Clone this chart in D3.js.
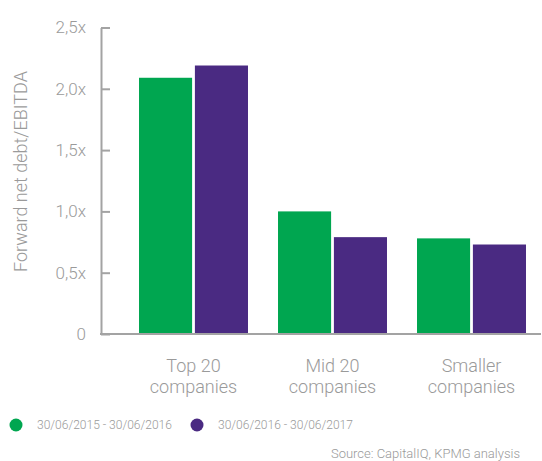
<!DOCTYPE html>
<html>
<head>
<meta charset="utf-8">
<script src="https://cdn.jsdelivr.net/npm/d3@7"></script>
<style>
  html, body { margin: 0; padding: 0; background: #fff; }
  svg { display: block; font-family: Roboto, "Open Sans", sans-serif; font-weight: 300; }
</style>
</head>
<body>
<svg id="chart" width="542" height="461"></svg>
<script>
const categories = [["Top 20", "companies"], ["Mid 20", "companies"], ["Smaller", "companies"]];
const seriesNames = ["30/06/2015 - 30/06/2016", "30/06/2016 - 30/06/2017"];
const series2016 = [2.09, 1.0, 0.78];
const series2017 = [2.19, 0.79, 0.73];
const yTicks = [0, 0.5, 1.0, 1.5, 2.0, 2.5];
const colors = ["#00a650", "#4a2a82"];

const svg = d3.select("#chart");
const grey = "#a3a3a3";
const textGrey = "#9a9a9a";

const x0 = d3.scaleBand()
    .domain(categories.map((d, i) => i))
    .range([124, 541])
    .paddingInner(0.216)
    .paddingOuter(0.108);

const x1 = d3.scaleBand()
    .domain([0, 1])
    .range([0, x0.bandwidth()])
    .paddingInner(0.05);

const y = d3.scaleLinear()
    .domain([0, 2.5])
    .range([334, 27.5]);

// BARS
const data = categories.map((c, i) => [series2016[i], series2017[i]]);
const groups = svg.selectAll(".group")
    .data(data)
    .enter().append("g")
    .attr("transform", (d, i) => `translate(${x0(i)},0)`);

groups.selectAll("rect")
    .data(d => d)
    .enter().append("rect")
    .attr("x", (d, j) => x1(j))
    .attr("y", d => y(d))
    .attr("width", x1.bandwidth())
    .attr("height", d => y(0) - y(d))
    .attr("fill", (d, j) => colors[j]);

// Y AXIS
const yAxis = svg.append("g")
    .attr("transform", "translate(101,0)")
    .call(d3.axisRight(y).tickValues(yTicks).tickSize(9).tickSizeOuter(0).tickFormat(() => ""));
yAxis.select(".domain").attr("stroke", grey).attr("stroke-width", 2);
yAxis.selectAll(".tick line").attr("stroke", grey).attr("stroke-width", 2);

svg.selectAll(".ylabel")
    .data(yTicks)
    .enter().append("text")
    .attr("x", 86)
    .attr("y", d => y(d))
    .attr("dy", "0.35em")
    .attr("text-anchor", "end")
    .attr("fill", textGrey)
    .style("font-size", "17px")
    .text(d => d === 0 ? "0" : d3.format(".1f")(d).replace(".", ",") + "x");

// BASELINE
svg.append("line")
    .attr("x1", 100).attr("x2", x0.range()[1])
    .attr("y1", y(0)).attr("y2", y(0))
    .attr("stroke", grey).attr("stroke-width", 2);

// Y TITLE
svg.append("text")
    .attr("transform", "translate(26.5,171.5) rotate(-90)")
    .attr("text-anchor", "middle")
    .attr("fill", textGrey)
    .style("font-size", "18px")
    .text("Forward net debt/EBITDA");

// X LABELS
const xl = svg.selectAll(".xlabel")
    .data(categories)
    .enter().append("text")
    .attr("x", (d, i) => x0(i) + x0.bandwidth() / 2)
    .attr("y", 371.5)
    .attr("text-anchor", "middle")
    .attr("fill", textGrey)
    .style("font-size", "18px");
xl.append("tspan").attr("x", (d, i) => x0(i) + x0.bandwidth() / 2).text(d => d[0]);
xl.append("tspan").attr("x", (d, i) => x0(i) + x0.bandwidth() / 2).attr("dy", 21.5).text(d => d[1]);

// LEGEND
const legendX = [16, 197];
const leg = svg.selectAll(".legend")
    .data(seriesNames)
    .enter().append("g")
    .attr("transform", (d, i) => `translate(${legendX[i]},425)`);
leg.append("circle").attr("r", 6.5).attr("fill", (d, i) => colors[i]);
leg.append("text")
    .attr("x", 21)
    .attr("dy", "0.35em")
    .attr("fill", textGrey)
    .style("font-size", "12px")
    .text(d => d);

// SOURCE
svg.append("text")
    .attr("x", 520)
    .attr("y", 453.5)
    .attr("dy", "0.35em")
    .attr("text-anchor", "end")
    .attr("fill", textGrey)
    .style("font-size", "13px")
    .text("Source: CapitalIQ, KPMG analysis");
</script>
</body>
</html>
